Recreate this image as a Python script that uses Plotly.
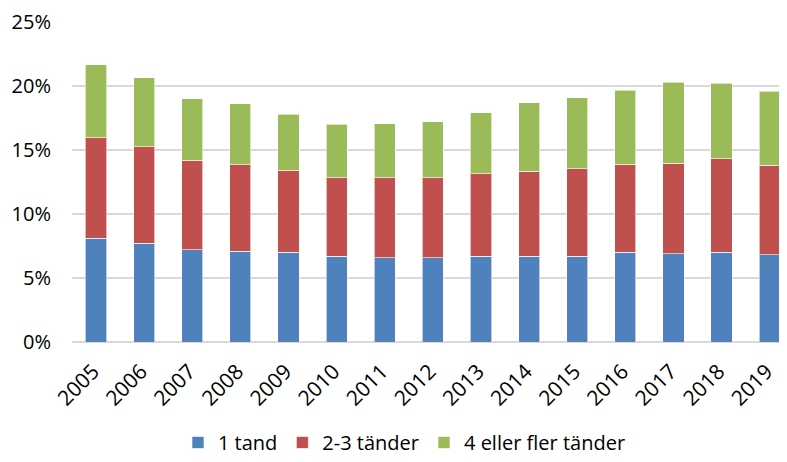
import plotly.graph_objects as go

years = [str(y) for y in range(2005, 2020)]
tand1 = [8.1, 7.7, 7.2, 7.1, 7.0, 6.7, 6.6, 6.6, 6.7, 6.7, 6.7, 7.0, 6.9, 7.0, 6.8]
tander23 = [7.85, 7.55, 7.0, 6.75, 6.4, 6.15, 6.25, 6.25, 6.45, 6.65, 6.85, 6.9, 7.05, 7.3, 7.0]
tander4 = [5.7, 5.4, 4.8, 4.75, 4.4, 4.15, 4.2, 4.35, 4.75, 5.35, 5.55, 5.75, 6.35, 5.9, 5.8]
names = ["1 tand", "2-3 tänder", "4 eller fler tänder"]
colors = ["#4F81BD", "#C0504D", "#9BBB59"]

fig = go.Figure()
for name, vals, col in zip(names, [tand1, tander23, tander4], colors):
    fig.add_trace(go.Bar(x=years, y=vals, name=name, marker_color=col,
                         marker_line=dict(color="rgba(255,255,255,0.6)", width=1)))

font = "Open Sans, Noto Sans, sans-serif"
fig.update_layout(
    barmode="stack", bargap=0.56,
    width=779, height=454,
    margin=dict(l=64, r=0, t=14, b=120, autoexpand=False),
    paper_bgcolor="white", plot_bgcolor="white",
    font=dict(family=font, size=19, color="#000000"),
    showlegend=True,
    legend=dict(orientation="h", x=0.465, xanchor="center",
                yref="container", y=0.0, yanchor="bottom",
                font=dict(size=20), traceorder="normal", itemwidth=30),
    xaxis=dict(range=[-0.5, 14.36], tickangle=-45, showgrid=False,
               showline=False, ticks="", tickfont=dict(size=21),
               ticklabelshift=-3, ticklabelstandoff=12, automargin=False),
    yaxis=dict(range=[0, 25], dtick=5, ticksuffix="%", showgrid=True,
               gridcolor="#D9D9D9", gridwidth=1.5, zeroline=True,
               zerolinecolor="#D9D9D9", zerolinewidth=1.5, automargin=False,
               ticklabelstandoff=20, tickfont=dict(size=20)),
)
fig.write_html("out.html")
